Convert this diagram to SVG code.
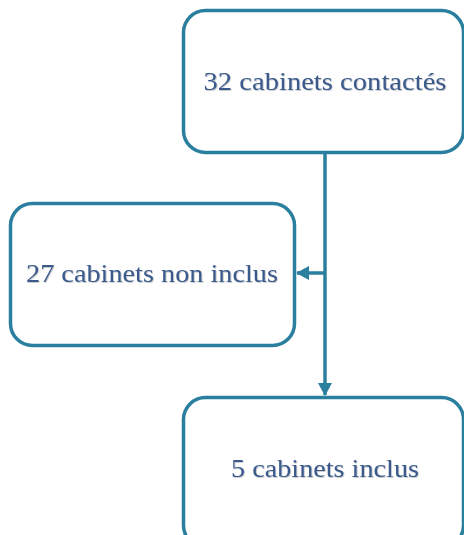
<svg xmlns="http://www.w3.org/2000/svg" width="464" height="535" viewBox="0 0 464 535">
<defs>
<marker id="ah" markerWidth="13" markerHeight="14" refX="12" refY="7" orient="auto" markerUnits="userSpaceOnUse" viewBox="0 0 13 14">
<path d="M0,0 L13,7 L0,14 Z" fill="#2B7F9E"/>
</marker>
<filter id="sh" x="-5%" y="-20%" width="110%" height="140%">
<feDropShadow dx="0.8" dy="0.8" stdDeviation="0.6" flood-color="#000" flood-opacity="0.25"/>
</filter>
</defs>
<style>
.box{fill:#fff;stroke:#2B7F9E;stroke-width:3.5}
.lbl{font-family:"Liberation Serif","DejaVu Serif",serif;font-size:26px;fill:#3A5A8C;text-anchor:middle;filter:url(#sh)}
.con{stroke:#2B7F9E;stroke-width:3.5;fill:none}
</style>
<g id="connectors">
<line class="con" x1="325" y1="152" x2="325" y2="395" marker-end="url(#ah)"/>
<line class="con" x1="325" y1="273" x2="297" y2="273" marker-end="url(#ah)"/>
</g>
<g id="n1">
<rect class="box" x="183.5" y="10.5" width="280" height="142" rx="22"/>
<text class="lbl" x="325" y="90" textLength="243" lengthAdjust="spacingAndGlyphs">32 cabinets contactés</text>
</g>
<g id="n2">
<rect class="box" x="10.5" y="203.5" width="284" height="142" rx="22"/>
<text class="lbl" x="152" y="282" textLength="252" lengthAdjust="spacingAndGlyphs">27 cabinets non inclus</text>
</g>
<g id="n3">
<rect class="box" x="183.5" y="397.5" width="280" height="150" rx="22"/>
<text class="lbl" x="325" y="477" textLength="188" lengthAdjust="spacingAndGlyphs">5 cabinets inclus</text>
</g>
</svg>
